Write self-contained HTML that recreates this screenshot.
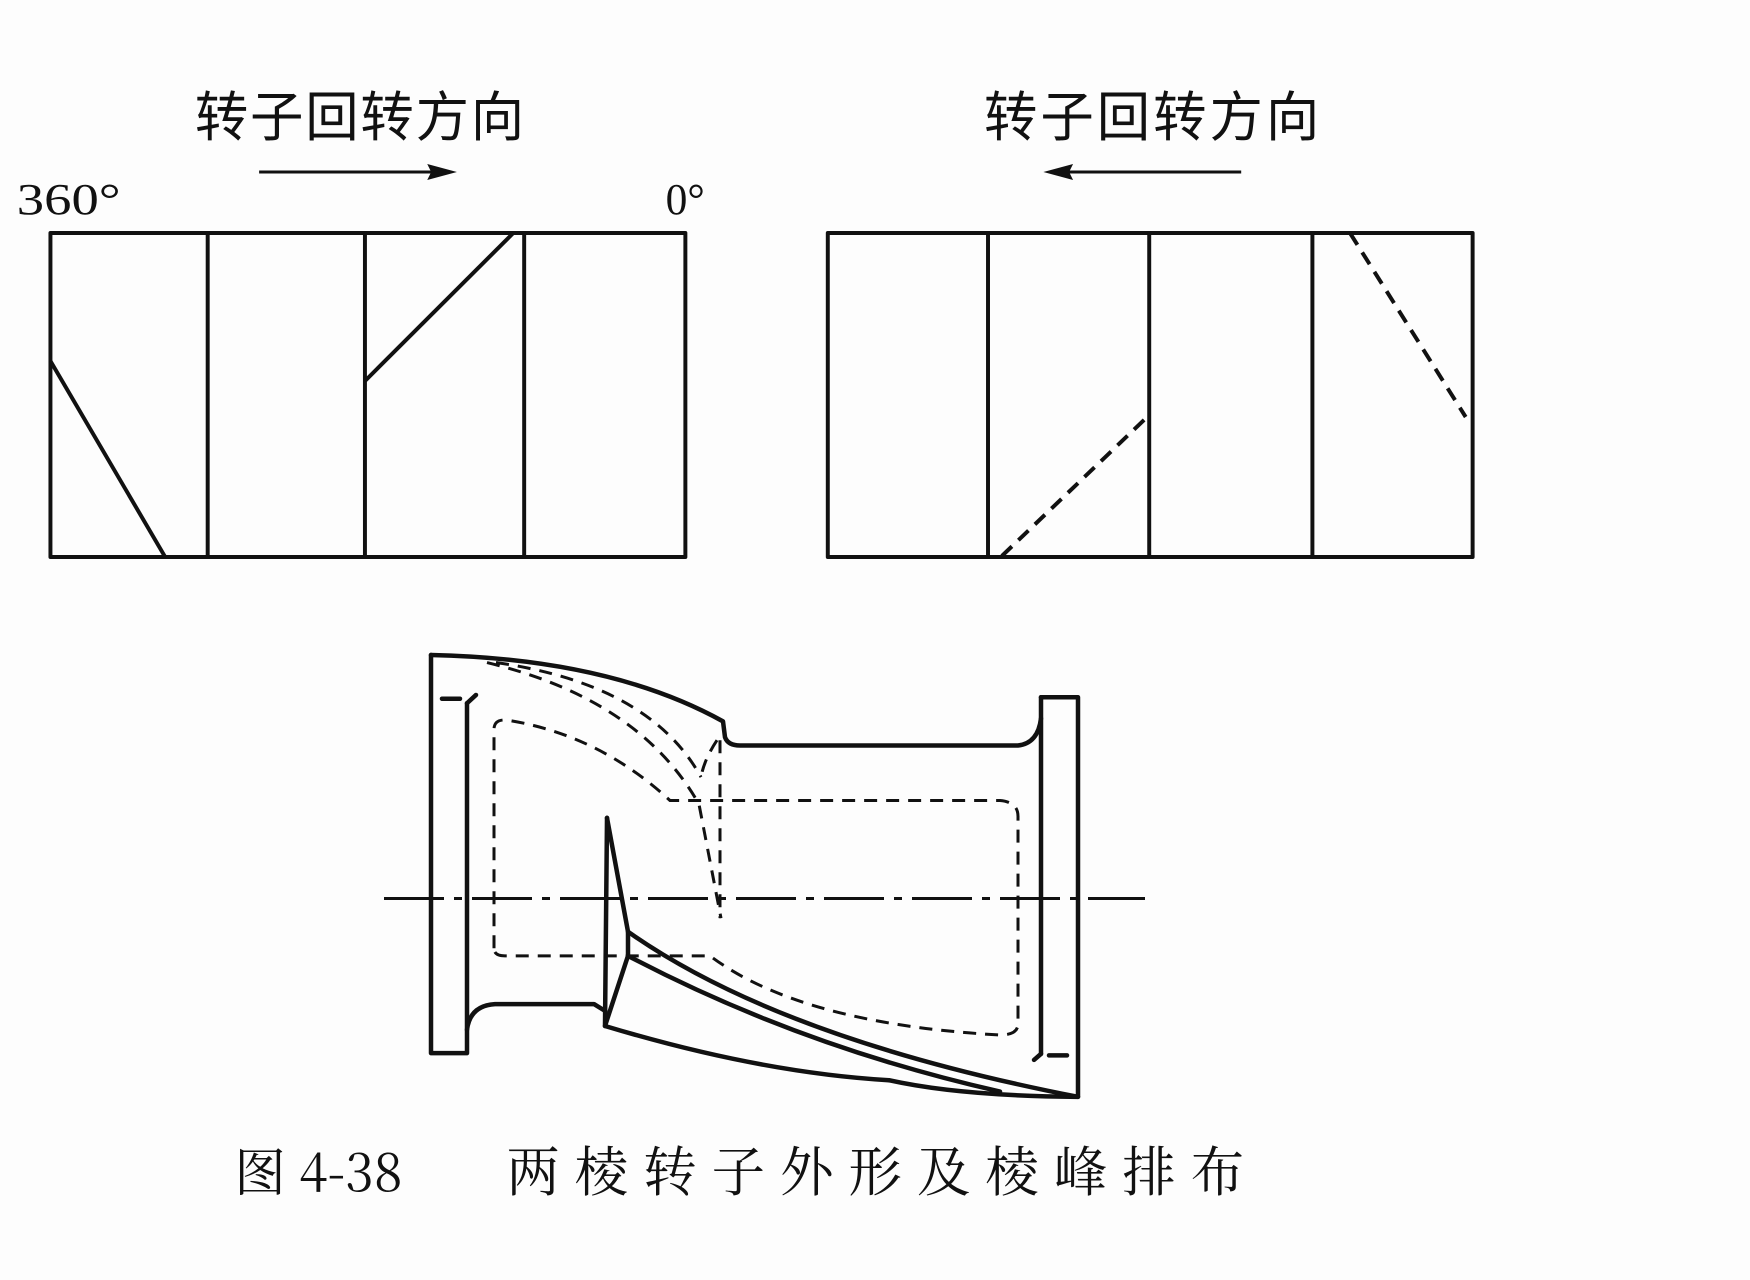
<!DOCTYPE html>
<html><head><meta charset="utf-8"><style>
html,body{margin:0;padding:0;background:#fff;}
svg{display:block;}
text{font-family:"Liberation Serif","Noto Serif CJK SC",serif;fill:#111;}
</style></head><body>
<svg width="1750" height="1280" viewBox="0 0 1750 1280" xmlns="http://www.w3.org/2000/svg">
<rect width="1750" height="1280" fill="#fdfdfd"/>
<g transform="scale(0.989,1)">
<g stroke="#111" stroke-width="4" fill="none" stroke-linejoin="round">
<rect x="51" y="233" width="642" height="324"/>
<line x1="210" y1="233" x2="210" y2="557"/>
<line x1="369" y1="233" x2="369" y2="557"/>
<line x1="530" y1="233" x2="530" y2="557"/>
<line x1="51" y1="361" x2="167" y2="557"/>
<line x1="369" y1="381" x2="519" y2="233"/>
<rect x="837" y="233" width="652" height="324"/>
<line x1="999" y1="233" x2="999" y2="557"/>
<line x1="1162" y1="233" x2="1162" y2="557"/>
<line x1="1327" y1="233" x2="1327" y2="557"/>
<line x1="1013" y1="556" x2="1162" y2="415" stroke-dasharray="14,9"/>
<line x1="1365" y1="233" x2="1482" y2="417" stroke-dasharray="14,9"/>
<line x1="262" y1="172" x2="450" y2="172" stroke-width="3"/>
<line x1="1255" y1="172" x2="1067" y2="172" stroke-width="3"/>
</g>
<polygon points="462,172 432,164 436,172 432,180" fill="#111"/>
<polygon points="1055,172 1085,164 1081,172 1085,180" fill="#111"/>
<text x="197" y="136" font-size="54" style="font-family:'Noto Sans CJK SC',sans-serif" textLength="333">转子回转方向</text>
<text x="995" y="136" font-size="54" style="font-family:'Noto Sans CJK SC',sans-serif" textLength="339">转子回转方向</text>
<text x="17" y="214" font-size="44" textLength="105" lengthAdjust="spacingAndGlyphs">360°</text>
<text x="673" y="214" font-size="44">0°</text>
<text x="237" y="1191" font-size="52" style="font-family:'Noto Serif CJK SC',serif">图 4-38</text>
<text x="512" y="1191" font-size="54" style="font-family:'Noto Serif CJK SC',serif" textLength="746">两棱转子外形及棱峰排布</text>
</g>

<g transform="translate(0,655) scale(1,0.754) translate(0,-661)">
<g stroke="#111" stroke-width="4.5" fill="none" stroke-linejoin="round" stroke-linecap="round">
<path vector-effect="non-scaling-stroke" d="M431,661 L431,1189 L467,1189 L467,1158 Q470,1126 495,1124 L594,1124 L605,1133"/>
<path vector-effect="non-scaling-stroke" d="M467,725 L467,1158"/>
<path vector-effect="non-scaling-stroke" d="M431,661 Q610,666 723,749 L725,770 Q728,781 740,781 L1018,781 Q1038,778 1041,745"/>
<path vector-effect="non-scaling-stroke" d="M1041,717 L1078,717 L1078,1247 Q960,1246 889,1225"/>
<path vector-effect="non-scaling-stroke" d="M1041,717 L1041,1190"/>
<path vector-effect="non-scaling-stroke" d="M607,877 L605,1153 Q760,1215 889,1225"/>
<path vector-effect="non-scaling-stroke" d="M607,877 L628,1028 L628,1060 L605,1153"/>
<path vector-effect="non-scaling-stroke" d="M628,1028 Q780,1170 1078,1247"/>
<path vector-effect="non-scaling-stroke" d="M628,1060 Q800,1180 1000,1240"/>
<path vector-effect="non-scaling-stroke" d="M467,725 L476,714"/>
<path vector-effect="non-scaling-stroke" d="M442,719 L460,719"/>
<path vector-effect="non-scaling-stroke" d="M1034,1198 L1041,1190"/>
<path vector-effect="non-scaling-stroke" d="M1049,1192 L1067,1192"/>
</g>
<g stroke="#111" stroke-width="3" fill="none" stroke-dasharray="13,9">
<line vector-effect="non-scaling-stroke" x1="384" y1="984" x2="1145" y2="984" stroke-dasharray="60,10,8,10"/>
<path vector-effect="non-scaling-stroke" d="M494,1050 L494,760 Q494,744 510,748 Q600,768 670,854 L1000,854 Q1018,856 1018,875 L1018,1150 Q1018,1165 1000,1165 Q800,1150 710,1060 L505,1060 Q494,1060 494,1050"/>
<path vector-effect="non-scaling-stroke" d="M487,671 Q640,720 699,859 L721,1010"/>
<path vector-effect="non-scaling-stroke" d="M496,671 Q650,700 701,823"/>
<path vector-effect="non-scaling-stroke" d="M720,774 L720,1010"/>
<path vector-effect="non-scaling-stroke" d="M717,774 Q704,800 701,823"/>
</g>
</g>
</svg>
</body></html>
